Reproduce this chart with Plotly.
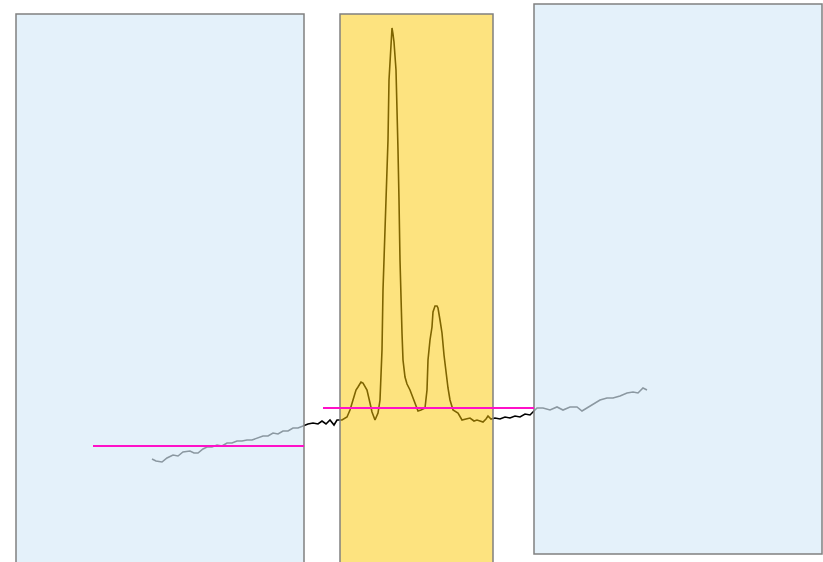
import plotly.graph_objects as go

# Chromatogram trace: retention time (min) and detector signal (mAU)
time_min = [1.52, 1.56, 1.62, 1.67, 1.73, 1.78, 1.83, 1.90, 1.94, 1.98, 2.03, 2.07, 2.12, 2.17, 2.22,
            2.27, 2.32, 2.37, 2.42, 2.47, 2.52, 2.57, 2.63, 2.68, 2.73, 2.78, 2.83, 2.88, 2.93, 2.98,
            3.03, 3.08, 3.13, 3.18, 3.22, 3.26, 3.30, 3.34, 3.37, 3.42, 3.47, 3.50, 3.53, 3.56, 3.58,
            3.61, 3.63, 3.67, 3.70, 3.72, 3.75, 3.78, 3.80, 3.82, 3.83, 3.85, 3.87, 3.88, 3.89, 3.91,
            3.92, 3.93, 3.94, 3.96, 3.97, 3.98, 3.99, 4.00, 4.02, 4.03, 4.05, 4.07, 4.10, 4.13, 4.15,
            4.18, 4.21, 4.25, 4.27, 4.28, 4.30, 4.32, 4.33, 4.35, 4.37, 4.38, 4.40, 4.42, 4.44, 4.46,
            4.48, 4.50, 4.53, 4.58, 4.62, 4.66, 4.70, 4.74, 4.77, 4.80, 4.83, 4.86, 4.88, 4.91, 4.95,
            5.00, 5.05, 5.10, 5.15, 5.20, 5.25, 5.30, 5.37, 5.43, 5.50, 5.57, 5.63, 5.70, 5.77, 5.82,
            5.87, 5.93, 6.00, 6.07, 6.13, 6.20, 6.27, 6.33, 6.38, 6.43, 6.47]
signal = [103, 101, 100, 104, 107, 106, 110, 111, 109, 109, 113, 115, 115, 117, 116,
          119, 119, 121, 121, 122, 122, 124, 126, 126, 129, 128, 131, 131, 134, 134,
          136, 138, 139, 138, 141, 138, 142, 137, 142, 142, 145, 152, 162, 172, 175,
          180, 179, 172, 159, 150, 142, 149, 162, 212, 272, 329, 382, 422, 482, 522,
          534, 528, 520, 492, 462, 412, 362, 302, 229, 202, 185, 178, 172, 164, 159,
          151, 152, 154, 172, 202, 222, 235, 250, 256, 256, 254, 242, 229, 207, 189,
          174, 162, 152, 149, 142, 143, 144, 141, 142, 141, 140, 143, 146, 143, 144,
          143, 145, 144, 146, 145, 148, 147, 154, 154, 152, 155, 152, 155, 155, 151,
          154, 157, 162, 164, 164, 166, 169, 170, 169, 174, 172]

# Integration windows (start, end, top, bottom) and their fills
window_start = [0.16, 3.40, 5.34]
window_end = [3.04, 4.93, 8.22]
window_top = [548, 548, 558]
window_bottom = [-10, -10, 8]
window_fill = ["rgba(213,233,247,0.65)", "rgba(251,199,0,0.5)", "rgba(213,233,247,0.65)"]

# Baselines (start, end, level)
base_start = [0.93, 3.23]
base_end = [3.04, 5.34]
base_level = [116, 154]

fig = go.Figure()
fig.add_trace(go.Scatter(x=time_min, y=signal, mode="lines",
                         line=dict(color="black", width=1.6), showlegend=False,
                         hoverinfo="skip"))

for s, e, t, b, c in zip(window_start, window_end, window_top, window_bottom, window_fill):
    fig.add_shape(type="rect", xref="x", yref="y", x0=s, x1=e, y0=b, y1=t,
                  fillcolor=c, line=dict(color="#808080", width=1.5), layer="above")

for s, e, lv in zip(base_start, base_end, base_level):
    fig.add_shape(type="line", xref="x", yref="y", x0=s, x1=e, y0=lv, y1=lv,
                  line=dict(color="#FF10C8", width=1.8), layer="above")

fig.update_layout(
    width=823, height=562,
    margin=dict(l=0, r=0, t=0, b=0),
    paper_bgcolor="white", plot_bgcolor="white",
    xaxis=dict(range=[0, 8.23], visible=False, fixedrange=True),
    yaxis=dict(range=[0, 562], visible=False, fixedrange=True),
)

fig.write_html("out.html", config={"displayModeBar": False},
               post_script="document.body.style.margin='0';document.body.style.overflow='hidden';")
